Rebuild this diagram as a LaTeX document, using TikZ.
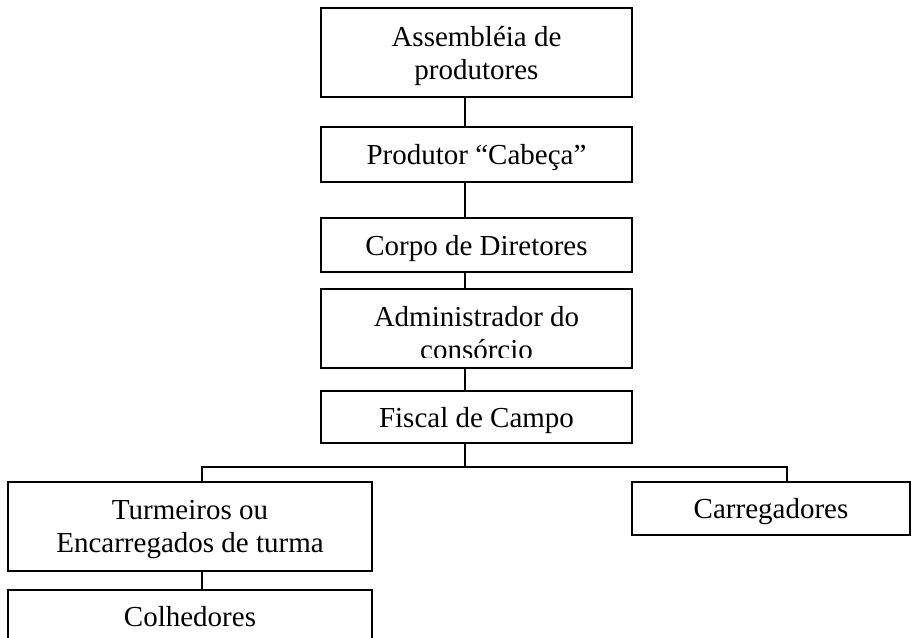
\documentclass[tikz,border=0pt]{standalone}
\usepackage{fontspec}
\setmainfont{Liberation Serif}
\usetikzlibrary{positioning}

\begin{document}
\begin{tikzpicture}
		[x=1pt, y=-1pt,
		block/.style ={rectangle, draw=black, line width=1.6pt, align=center, inner sep=0pt,
		text depth=0pt, font=\fontsize{29}{33}\selectfont},
		stack/.style = {block, minimum width=311pt},
		line/.style ={draw, line width=1.6pt},
		]
		\useasboundingbox (0,0) rectangle (912,637);
		\clip (0,0) rectangle (912,637);

		% central column
		\draw (476.5,52.5) node[stack, minimum height=89pt] (A1) {Assembléia de\\produtores};
		\draw (476.5,154.5) node[stack, minimum height=55pt] (A2) {Produtor “Cabeça”};
		\draw (476.5,245) node[stack, minimum height=54pt] (A3) {Corpo de Diretores};
		\draw (476.5,328.5) node[stack, minimum height=79pt] (A4) {};
		\begin{scope}
			\clip (A4.north west) rectangle ([yshift=11pt]A4.south east);
			\draw (476.5,333) node[align=center, inner sep=0pt, text depth=0pt,
			font=\fontsize{29}{33}\selectfont] (A4t) {Administrador do\\consórcio};
		\end{scope}
		\draw (476.5,417) node[stack, minimum height=52pt] (A5) {Fiscal de Campo};

		% lower level
		\draw (190,526.5) node[block, minimum width=364pt, minimum height=89pt] (T1) {Turmeiros ou\\Encarregados de turma};
		\draw (190,616) node[block, minimum width=364pt, minimum height=52pt] (T2) {Colhedores};
		\draw (771,508.5) node[block, minimum width=278pt, minimum height=53pt] (C1) {Carregadores};

		\coordinate (S) at (465,0);
		\coordinate (L) at (202,467);
		\coordinate (R) at (787,467);

		\path[line]
		(A1.south -| S) -- (A2.north -| S)
		(A2.south -| S) -- (A3.north -| S)
		(A3.south -| S) -- (A4.north -| S)
		(A4.south -| S) -- (A5.north -| S)
		(A5.south -| S) -- (S |- L)
		(T1.north -| L) -- (L) -- (R) -- (C1.north -| R)
		(T1.south -| L) -- (T2.north -| L);
	\end{tikzpicture}
\end{document}
